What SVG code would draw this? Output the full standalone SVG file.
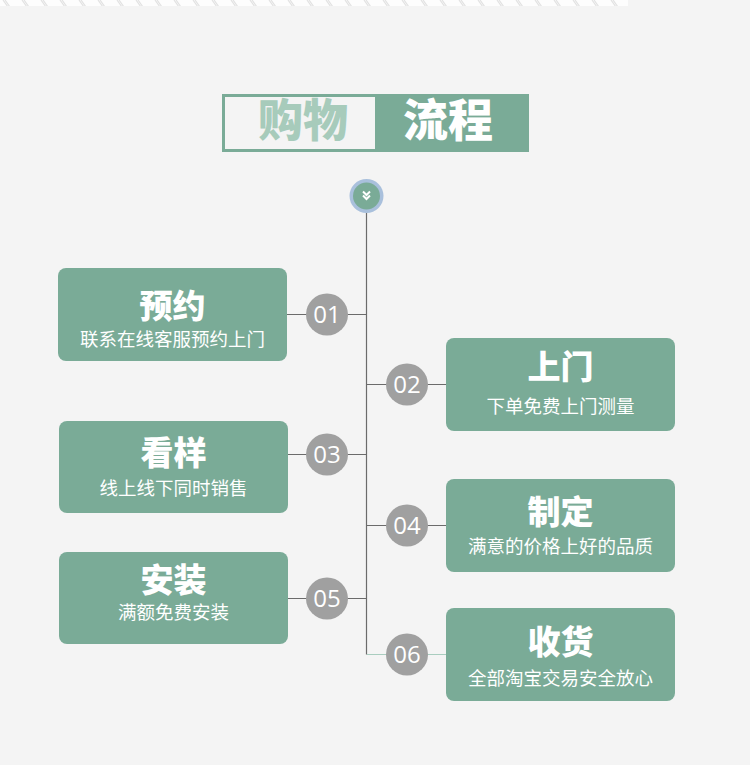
<svg xmlns="http://www.w3.org/2000/svg" width="750" height="765" viewBox="0 0 750 765">
  <style>
    .box { fill: #7aab97; }
    .ttl { font-family: "Noto Sans CJK SC", sans-serif; font-weight: 900; font-size: 33px; fill: #ffffff; text-anchor: middle; }
    .sub { font-family: "Noto Sans CJK SC", sans-serif; font-size: 18.5px; fill: #ffffff; text-anchor: middle; }
    .num { fill: #a0a0a0; }
    .numt { font-family: "Open Sans", "Noto Sans", sans-serif; font-size: 24px; fill: #ffffff; text-anchor: middle; }
    .ln { stroke: #6b6b6b; stroke-width: 1.2; fill: none; }
    .lng { stroke: #a9cdbf; stroke-width: 1.2; fill: none; }
  </style>
  <defs>
    <pattern id="stripes" x="0" y="0" width="19" height="7" patternUnits="userSpaceOnUse">
      <rect width="19" height="7" fill="#fdfdfd"/>
      <path d="M3 0 L8 7 M5 0 L10 7" stroke="#e2e2e2" stroke-width="1.2"/>
    </pattern>
  </defs>
  <rect width="750" height="765" fill="#f4f4f4"/>
  <rect x="0" y="0" width="628" height="6" fill="url(#stripes)"/>

  <g id="title">
    <rect x="223.5" y="95.5" width="304" height="55" fill="#f4f4f4" stroke="#7aab97" stroke-width="3"/>
    <rect x="375" y="95" width="153" height="56" fill="#7aab97"/>
    <text x="303" y="137" font-family="Noto Sans CJK SC, sans-serif" font-weight="900" font-size="45" fill="#a7cbbb" text-anchor="middle">购物</text>
    <text x="448" y="137" font-family="Noto Sans CJK SC, sans-serif" font-weight="900" font-size="45" fill="#ffffff" text-anchor="middle">流程</text>
  </g>

  <g id="connectors">
    <line class="ln" x1="366.5" y1="210" x2="366.5" y2="654.5"/>
    <line class="ln" x1="287" y1="314.5" x2="367" y2="314.5"/>
    <line class="ln" x1="366" y1="384.5" x2="446" y2="384.5"/>
    <line class="ln" x1="287" y1="454.5" x2="367" y2="454.5"/>
    <line class="ln" x1="366" y1="525.5" x2="446" y2="525.5"/>
    <line class="ln" x1="287" y1="598.5" x2="367" y2="598.5"/>
    <line class="lng" x1="367" y1="654.5" x2="446" y2="654.5"/>
  </g>

  <g id="start">
    <circle cx="366.5" cy="196" r="17" fill="#a9c0dc"/>
    <circle cx="366.5" cy="196" r="13.5" fill="#7aab97"/>
    <path d="M363 191.5 L366.5 195 L370 191.5 M363 195.5 L366.5 199 L370 195.5" stroke="#ffffff" stroke-width="2" fill="none"/>
  </g>

  <g id="step1">
    <rect class="box" x="58" y="268" width="229" height="93" rx="8"/>
    <text class="ttl" x="172.5" y="318">预约</text>
    <text class="sub" x="172.5" y="346">联系在线客服预约上门</text>
    <circle class="num" cx="327" cy="314.5" r="21"/>
    <text class="numt" x="327" y="323">01</text>
  </g>

  <g id="step2">
    <rect class="box" x="446" y="338" width="229" height="93" rx="8"/>
    <text class="ttl" x="560.5" y="379">上门</text>
    <text class="sub" x="560.5" y="413">下单免费上门测量</text>
    <circle class="num" cx="407" cy="384.5" r="21"/>
    <text class="numt" x="407" y="393">02</text>
  </g>

  <g id="step3">
    <rect class="box" x="59" y="421" width="229" height="92" rx="8"/>
    <text class="ttl" x="173.5" y="465">看样</text>
    <text class="sub" x="173.5" y="495">线上线下同时销售</text>
    <circle class="num" cx="327" cy="454.5" r="21"/>
    <text class="numt" x="327" y="463">03</text>
  </g>

  <g id="step4">
    <rect class="box" x="446" y="479" width="229" height="93" rx="8"/>
    <text class="ttl" x="560.5" y="524">制定</text>
    <text class="sub" x="560.5" y="553">满意的价格上好的品质</text>
    <circle class="num" cx="407" cy="525.5" r="21"/>
    <text class="numt" x="407" y="534">04</text>
  </g>

  <g id="step5">
    <rect class="box" x="59" y="552" width="229" height="92" rx="8"/>
    <text class="ttl" x="173.5" y="592">安装</text>
    <text class="sub" x="173.5" y="619">满额免费安装</text>
    <circle class="num" cx="327" cy="598.5" r="21"/>
    <text class="numt" x="327" y="607">05</text>
  </g>

  <g id="step6">
    <rect class="box" x="446" y="608" width="229" height="93" rx="8"/>
    <text class="ttl" x="560.5" y="654">收货</text>
    <text class="sub" x="560.5" y="685">全部淘宝交易安全放心</text>
    <circle class="num" cx="407" cy="654.5" r="21"/>
    <text class="numt" x="407" y="663">06</text>
  </g>
</svg>
